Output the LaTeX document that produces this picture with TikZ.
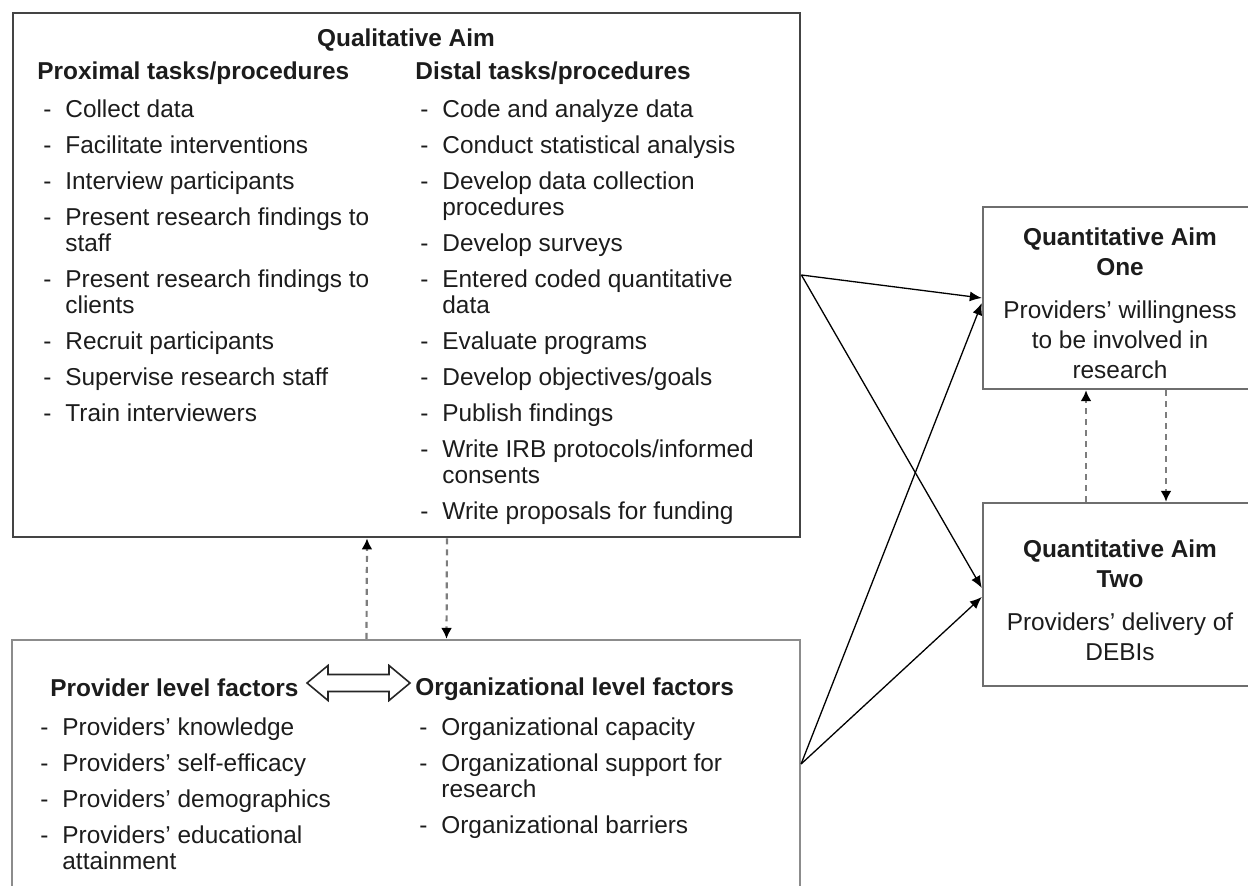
\documentclass[tikz,border=0pt]{standalone}
\usepackage{fontspec}
\setmainfont{Liberation Sans}
\usepackage{tikz}
\usetikzlibrary{arrows.meta,fit}
\definecolor{boxgray}{RGB}{68,68,68}
\definecolor{aimgray}{RGB}{110,110,110}
\definecolor{factgray}{RGB}{140,140,140}
\definecolor{dashgray}{RGB}{125,125,125}
\definecolor{inkgray}{RGB}{28,28,28}

\begin{document}
\begin{tikzpicture}[
  x=0.5pt, y=-0.5pt,
  every node/.style={text=inkgray},
  box/.style={rectangle, draw, inner sep=0pt},
  qualbox/.style={box, draw=boxgray, line width=1.4pt},
  aimbox/.style={box, draw=aimgray, line width=1.2pt},
  factbox/.style={box, draw=factgray, line width=1.1pt},
  head/.style={anchor=base west, inner sep=0pt, font=\fontsize{12.2}{13}\selectfont\bfseries},
  lst/.style={anchor=base west, inner sep=0pt, font=\fontsize{12.2}{13}\selectfont},
  aimtext/.style={anchor=north, inner sep=0pt, align=center, font=\fontsize{12.2}{15}\selectfont},
  arrow/.style={-{Latex[length=6pt,width=5pt]}, line width=0.65pt, black},
  dasharrow/.style={-{Latex[length=5.5pt,width=5.5pt,color=black]}, dashgray, line width=1.1pt, dash pattern=on 3pt off 2.5pt}
]

\clip (0,0) rectangle (1248,886);

% boxes
\node[qualbox, fit={(13,13) (800,537)}] (qual) {};
\node[factbox, fit={(12,640) (800,888)}] (fact) {};
\node[aimbox, fit={(983,207) (1257,389)}] (one) {};
\node[aimbox, fit={(983,503) (1257,686)}] (two) {};

% qualitative aim
\node[head, anchor=base] (qualtitle) at (406,47) {Qualitative Aim};
\node[head] (proxhead) at (37,80) {Proximal tasks/procedures};
\node[head] (disthead) at (415,80) {Distal tasks/procedures};

\node[lst] (proxlist) at (43,118) {\begin{tabular}[t]{@{}p{11pt}@{}l@{}}
- & Collect data\\[5pt]
- & Facilitate interventions\\[5pt]
- & Interview participants\\[5pt]
- & Present research findings to\\
  & staff\\[5pt]
- & Present research findings to\\
  & clients\\[5pt]
- & Recruit participants\\[5pt]
- & Supervise research staff\\[5pt]
- & Train interviewers
\end{tabular}};

\node[lst] (distlist) at (420,118) {\begin{tabular}[t]{@{}p{11pt}@{}l@{}}
- & Code and analyze data\\[5pt]
- & Conduct statistical analysis\\[5pt]
- & Develop data collection\\
  & procedures\\[5pt]
- & Develop surveys\\[5pt]
- & Entered coded quantitative\\
  & data\\[5pt]
- & Evaluate programs\\[5pt]
- & Develop objectives/goals\\[5pt]
- & Publish findings\\[5pt]
- & Write IRB protocols/informed\\
  & consents\\[5pt]
- & Write proposals for funding
\end{tabular}};

% factors
\node[head] (provhead) at (50,697) {Provider level factors};
\node[head] (orghead) at (415,696) {Organizational level factors};

\node[lst] (provlist) at (40,736) {\begin{tabular}[t]{@{}p{11pt}@{}l@{}}
- & Providers' knowledge\\[5pt]
- & Providers' self-efficacy\\[5pt]
- & Providers' demographics\\[5pt]
- & Providers' educational\\
  & attainment
\end{tabular}};

\node[lst] (orglist) at (419,736) {\begin{tabular}[t]{@{}p{11pt}@{}l@{}}
- & Organizational capacity\\[5pt]
- & Organizational support for\\
  & research\\[5pt]
- & Organizational barriers
\end{tabular}};

% hollow double arrow between the two factor groups
\draw[line width=0.8pt, black!85, fill=white] (307,683) -- (328,665.5) -- (328,674.5) -- (389,674.5) -- (389,665.5) -- (410,683) -- (389,700.5) -- (389,691.5) -- (328,691.5) -- (328,700.5) -- cycle;

% quantitative aims
\node[aimtext] (onetext) at (1120,227) {\textbf{Quantitative Aim}\\\textbf{One}\\[6.5pt]Providers' willingness\\to be involved in\\research};
\node[aimtext] (twotext) at (1120,539) {\textbf{Quantitative Aim}\\\textbf{Two}\\[6.5pt]Providers' delivery of\\DEBIs};

% links
\draw[dasharrow] ([xshift=-19.75pt]fact.north) -- ([xshift=-19.75pt]qual.south);
\draw[dasharrow] ([xshift=20.25pt]qual.south) -- ([xshift=20.25pt]fact.north);
\draw[dasharrow] ([xshift=-17pt]two.north) -- ([xshift=-17pt]one.south);
\draw[dasharrow] ([xshift=23pt]one.south) -- ([xshift=23pt]two.north);

\draw[arrow] (qual.east) -- (one.west);
\draw[arrow] (qual.east) -- ([yshift=3.25pt]two.west);
\draw[arrow] (fact.east) -- ([yshift=-2.5pt]one.west);
\draw[arrow] (fact.east) -- ([yshift=-1.25pt]two.west);

\end{tikzpicture}
\end{document}
